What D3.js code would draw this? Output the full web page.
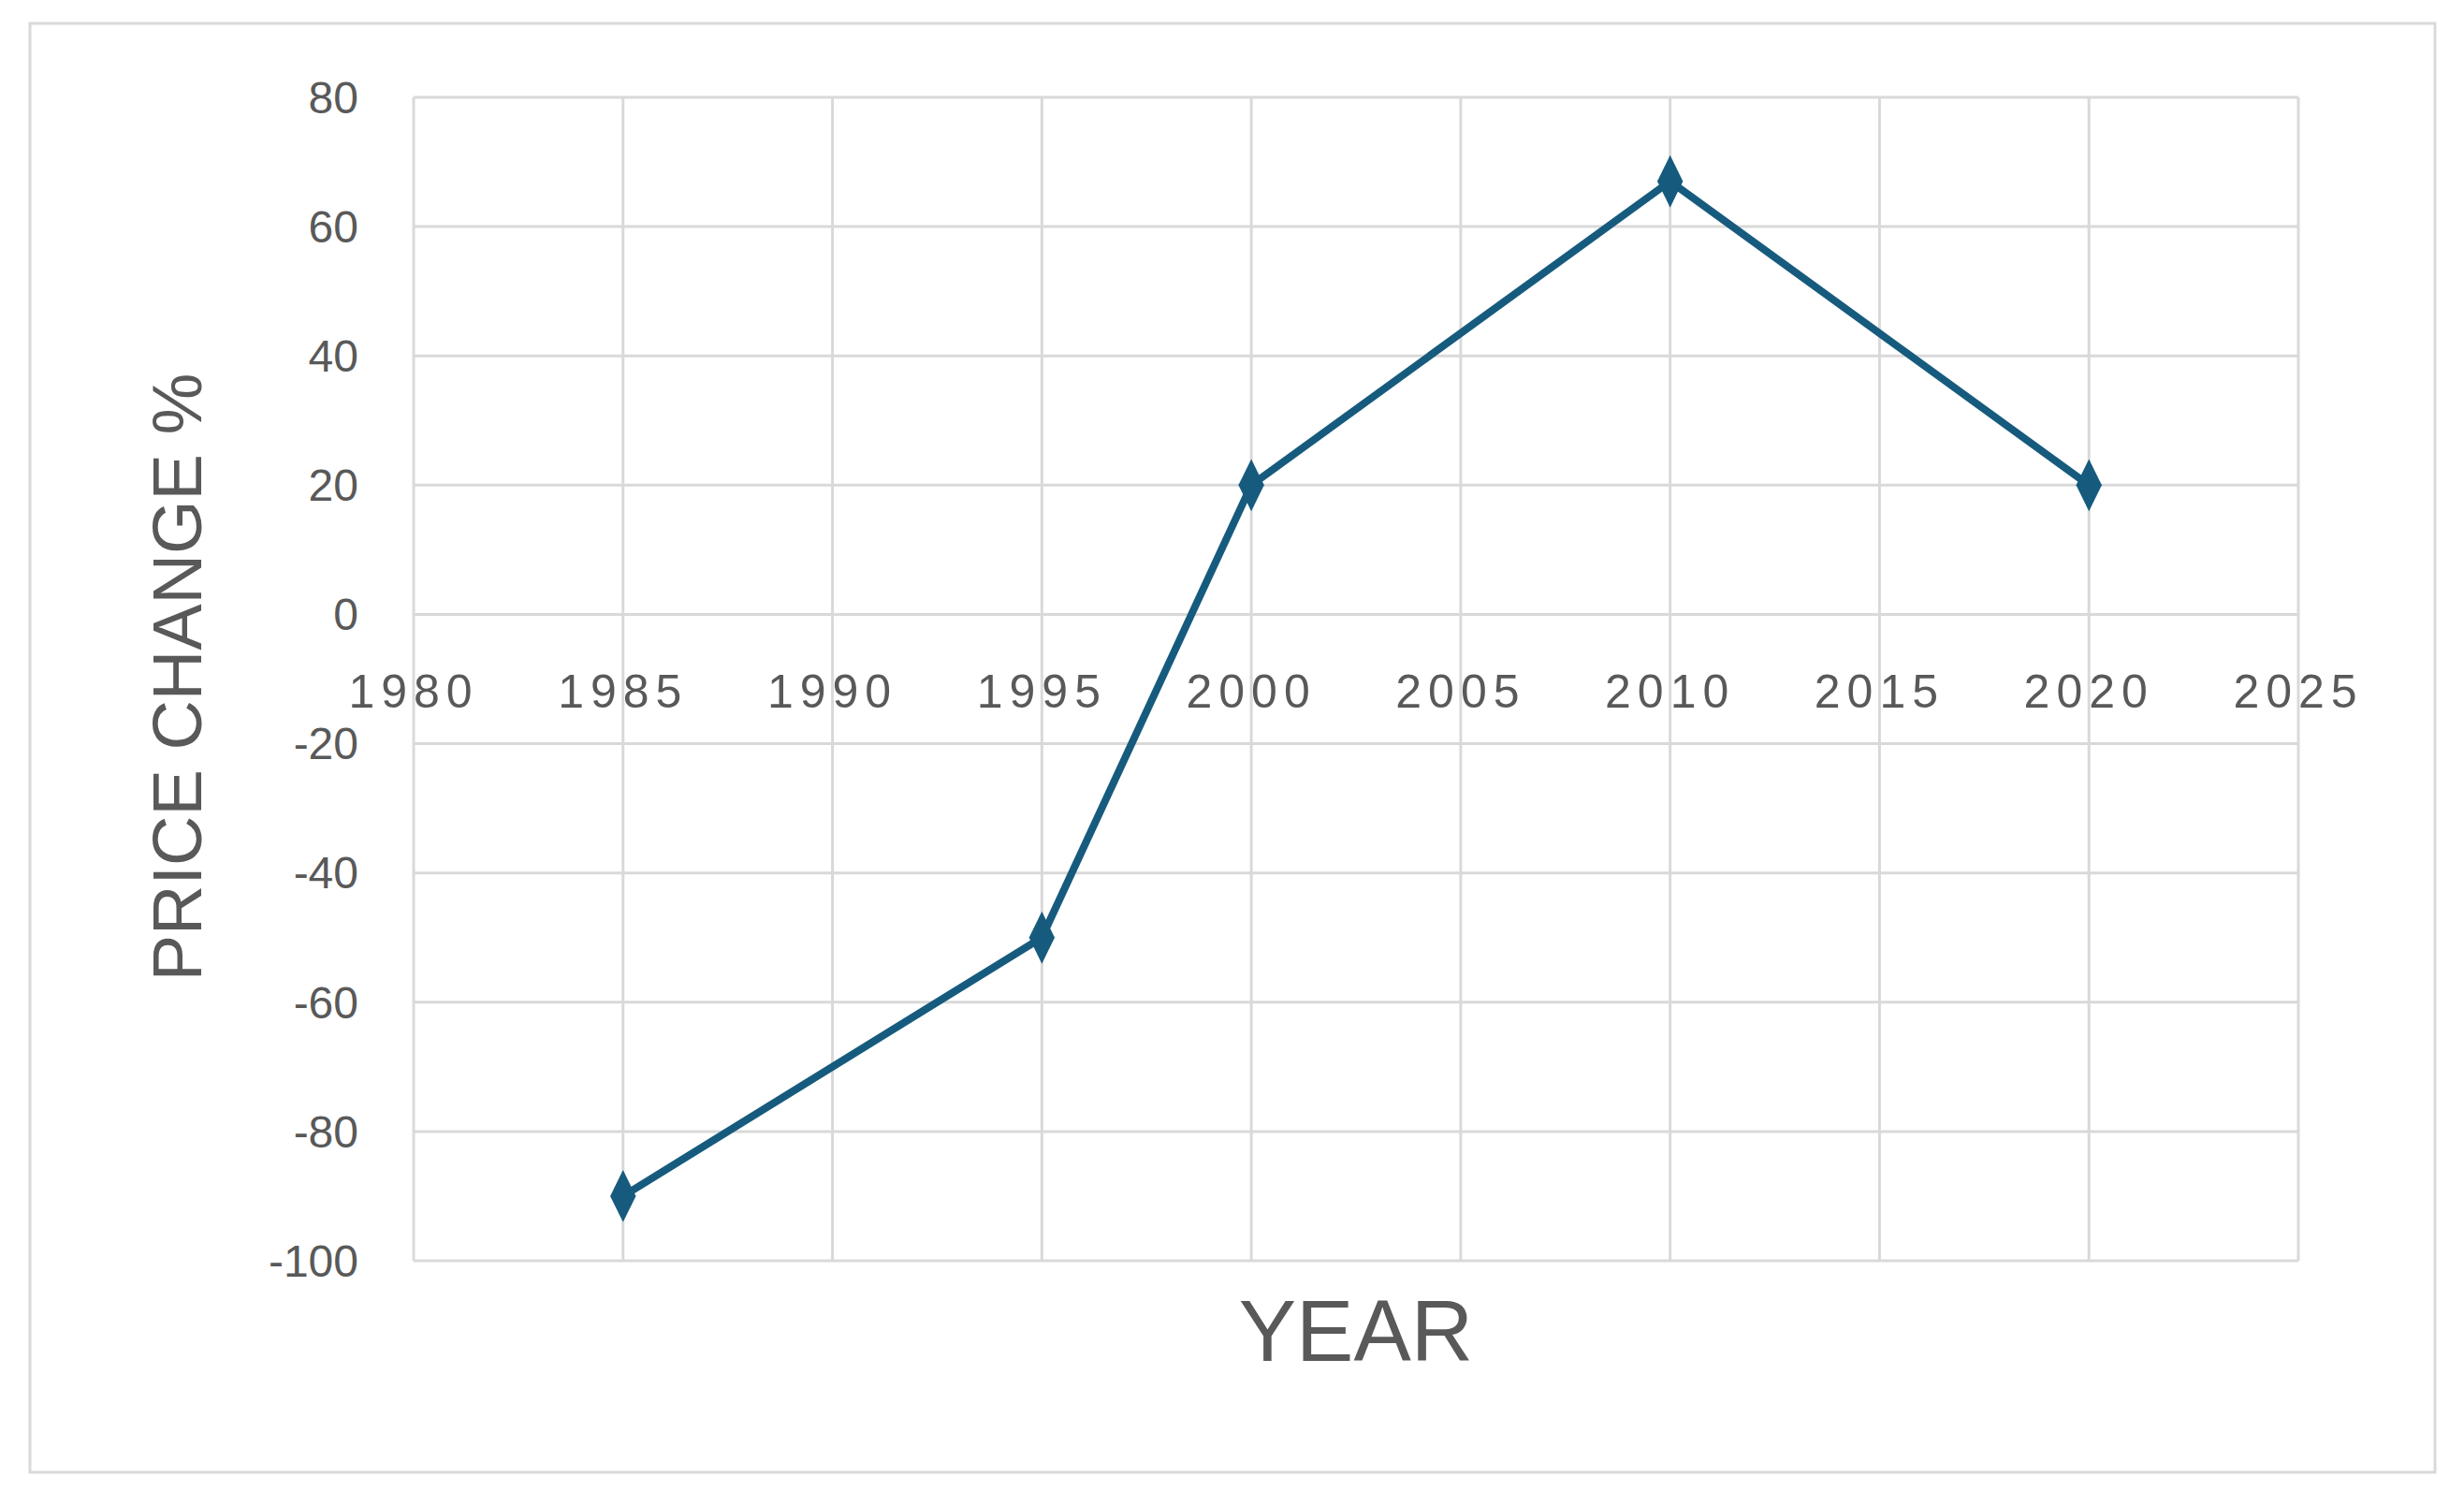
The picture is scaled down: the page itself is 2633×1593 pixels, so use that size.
<!DOCTYPE html>
<html>
<head>
    <script src="https://d3js.org/d3.v7.min.js"></script>
    <style>
        body { margin: 0; background: #fff; }
    </style>
</head>
<body>
<script>
    // chart data
    const years = [1985, 1995, 2000, 2010, 2020];
    const priceChange = [-90, -50, 20, 67, 20];
    const xTicks = [1980, 1985, 1990, 1995, 2000, 2005, 2010, 2015, 2020, 2025];
    const yTicks = [-100, -80, -60, -40, -20, 0, 20, 40, 60, 80];

    const W = 2633, H = 1593;
    const margin = {top: 104, right: 177, bottom: 246, left: 442};
    const width = W - margin.left - margin.right,
          height = H - margin.top - margin.bottom;
    const grey = "#595959", gridColor = "#d9d9d9", lineColor = "#165b7e";
    const narrow = "'Liberation Sans Narrow', 'Liberation Sans', Arial, sans-serif";

    const svg = d3.select("body").append("svg")
        .attr("width", W).attr("height", H);

    // outer frame
    svg.append("rect")
        .attr("x", 32).attr("y", 25).attr("width", 2570).attr("height", 1548)
        .attr("fill", "#fff").attr("stroke", gridColor).attr("stroke-width", 3);

    const g = svg.append("g")
        .attr("transform", "translate(" + margin.left + "," + margin.top + ")");

    const x = d3.scaleLinear().domain([1980, 2025]).range([0, width]);
    const y = d3.scaleLinear().domain([-100, 80]).range([height, 0]);

    // gridlines
    g.selectAll(".hgrid").data(yTicks).enter().append("line")
        .attr("x1", 0).attr("x2", width)
        .attr("y1", d => y(d)).attr("y2", d => y(d))
        .attr("stroke", gridColor).attr("stroke-width", 3);
    g.selectAll(".vgrid").data(xTicks).enter().append("line")
        .attr("x1", d => x(d)).attr("x2", d => x(d))
        .attr("y1", 0).attr("y2", height)
        .attr("stroke", gridColor).attr("stroke-width", 3);

    // y tick labels
    g.selectAll(".ylab").data(yTicks).enter().append("text")
        .attr("x", -59).attr("y", d => y(d)).attr("dy", "0.35em")
        .attr("text-anchor", "end")
        .style("font-family", narrow).style("font-size", "48px").style("fill", grey)
        .text(d => d);

    // x tick labels sit just under the zero line
    g.selectAll(".xlab").data(xTicks).enter().append("text")
        .attr("x", d => x(d)).attr("y", y(0) + 100)
        .attr("text-anchor", "middle")
        .style("font-family", narrow).style("font-size", "50px")
        .style("letter-spacing", "7px").style("fill", grey)
        .text(d => d);

    // series line
    const pts = years.map((d, i) => [d, priceChange[i]]);
    g.append("path")
        .datum(pts)
        .attr("fill", "none").attr("stroke", lineColor).attr("stroke-width", 8)
        .attr("stroke-linejoin", "round")
        .attr("d", d3.line().x(d => x(d[0])).y(d => y(d[1])));

    g.selectAll(".marker").data(pts).enter().append("path")
        .attr("d", d3.symbol().type(d3.symbolDiamond).size(900))
        .attr("transform", d => "translate(" + x(d[0]) + "," + y(d[1]) + ") scale(0.85,1)")
        .attr("fill", lineColor);

    // axis titles
    svg.append("text")
        .attr("transform", "translate(215," + (margin.top + height / 2 - 2) + ") rotate(-90)")
        .attr("text-anchor", "middle")
        .style("font-family", "'Liberation Sans', Arial, sans-serif").style("font-size", "74px")
        .style("fill", grey)
        .text("PRICE CHANGE %");

    svg.append("text")
        .attr("x", 1449).attr("y", 1454)
        .attr("text-anchor", "middle")
        .style("font-family", narrow).style("font-size", "92px").style("fill", grey)
        .text("YEAR");
</script>
</body>
</html>
